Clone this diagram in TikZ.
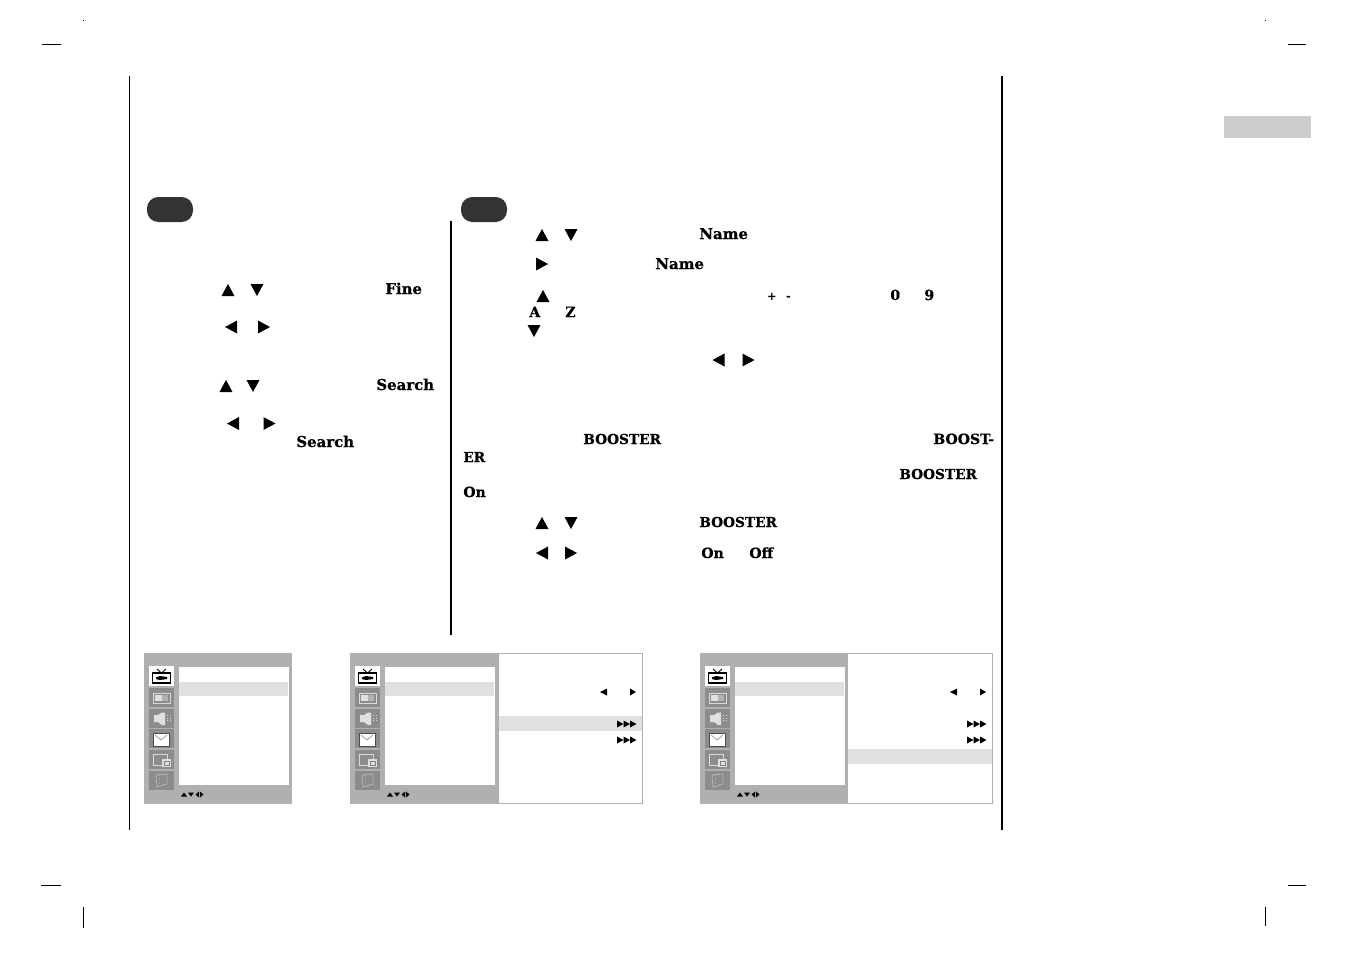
\documentclass[tikz,border=0pt]{standalone}
\usepackage{fontspec}
\newfontfamily\keyfont{DejaVu Serif Bold}[FakeBold=0.6]
\newfontfamily\signfont{DejaVu Sans}
\tikzset{
	keyword/.style={anchor=base west,inner sep=0pt,font=\keyfont\fontsize{8.5}{8.5}\selectfont},
	capword/.style={anchor=base west,inner sep=0pt,font=\keyfont\fontsize{7.8}{7.8}\selectfont},
	shortword/.style={anchor=base west,inner sep=0pt,font=\keyfont\fontsize{8}{8}\selectfont},
	signtext/.style={anchor=base,inner sep=0pt,font=\signfont\bfseries\fontsize{6.5}{6.5}\selectfont},
	rule/.style={line width=0.85pt},
	cropmark/.style={line width=0.55pt},
	menugray/.style={fill=black!31},
	cellgray/.style={fill=black!45},
	barlight/.style={fill=black!12},
	iconline/.style={draw=black!15,line width=0.5pt}
}
\begin{document}
\begin{tikzpicture}[x=0.02cm,y=-0.02cm]
	\useasboundingbox (0,0) rectangle (1351,954);
	% page rules and crop marks
	\draw[rule,line width=0.65pt] (129.5,76) -- (129.5,830);
	\draw[rule,line width=1.1pt] (1002,76) -- (1002,830);
	\draw[rule] (451,221) -- (451,635);
	\draw[cropmark] (42,44) -- (61,44);
	\draw[cropmark] (41,885) -- (61,885);
	\draw[cropmark] (1288,44) -- (1306,44);
	\draw[cropmark] (1288,885) -- (1306,885);
	\draw[cropmark] (83.5,907) -- (83.5,928);
	\draw[cropmark] (1265.5,907) -- (1265.5,926);
	\fill (83,20) rectangle (84,21);
	\fill (1265,20) rectangle (1266,21);
	\fill[black!20] (1224,116) rectangle (1311,138);
	% step pills
	\fill[black!80,rounded corners=6.5pt] (147,197) rectangle (193,222);
	\fill[black!80,rounded corners=6.5pt] (461,197) rectangle (507,222);
	% key arrows
	\foreach \x/\y in {228/290,226/386,542/235,543/296,542/523}
		\fill (\x-6.5,\y+6) -- (\x+6.5,\y+6) -- (\x,\y-6) -- cycle;
	\foreach \x/\y in {257/290,253/386,571/235,534/331,571/523}
		\fill (\x-6.5,\y-6) -- (\x+6.5,\y-6) -- (\x,\y+6) -- cycle;
	\foreach \x/\y in {231/327,233/423.5,718.5/360,542/553}
		\fill (\x+6,\y-6.5) -- (\x+6,\y+6.5) -- (\x-6,\y) -- cycle;
	\foreach \x/\y in {264/327,269.5/423.5,542/264,748.5/360,571/553}
		\fill (\x-6,\y-6.5) -- (\x-6,\y+6.5) -- (\x+6,\y) -- cycle;
	% bold words
	\node[keyword] (fine) at (385,294) {Fine};
	\node[keyword] (searcha) at (376,390) {Search};
	\node[keyword] (searchb) at (296,447) {Search};
	\node[keyword] (namea) at (699,239) {Name};
	\node[keyword] (nameb) at (655,269) {Name};
	\node[shortword] (digita) at (890,300) {0};
	\node[shortword] (digitb) at (924,300) {9};
	\node[shortword] (lettera) at (529,317) {A};
	\node[shortword] (letterb) at (565,317) {Z};
	\node[capword] (boostera) at (583,444) {BOOSTER};
	\node[shortword] (boosterb) at (933,444) {BOOST-};
	\node[capword] (boosterc) at (463,462) {ER};
	\node[capword] (boosterd) at (899,479) {BOOSTER};
	\node[shortword] (ona) at (463,497) {On};
	\node[capword] (boostere) at (699,527) {BOOSTER};
	\node[shortword] (onb) at (701,558) {On};
	\node[shortword] (off) at (749,558) {Off};
	\node[signtext] (plus) at (772,300.5) {+};
	\node[signtext] (minus) at (788.5,300.5) {-};
	% the three menus
	\foreach \dx in {0,206,556} {
		\begin{scope}[xshift=\dx*0.02cm]
			\fill[menugray] (144,653) rectangle (292,804);
			\fill[white] (179,667) rectangle (289,785);
			\fill[barlight] (179,682) rectangle (288,696);
			\fill[white] (149,666) rectangle (174,686);
			\foreach \ya/\yb in {688/707,709/728,729/748,750/769,771/790}
				\fill[cellgray] (149,\ya) rectangle (174,\yb);
			% tv
			\draw[line width=0.7pt] (152.5,673) rectangle (170.5,683);
			\draw[line width=0.5pt] (157,669) -- (161.5,673) -- (166,669);
			\fill (156,677.5) -- (160,676) -- (167,677) -- (167,679) -- (160,680) -- (156,679) -- cycle;
			% picture
			\draw[iconline] (153,693) rectangle (170,703);
			\fill[black!12] (155,695) rectangle (162,701);
			\fill[black!30] (162,695) rectangle (168,701);
			% speaker
			\fill[black!12] (154,715) -- (158,715) -- (162,712.5) -- (165,712.5) -- (165,725) -- (162,725) -- (158,722) -- (154,722) -- cycle;
			\draw[iconline,densely dotted] (167,715) -- (167,722);
			\draw[iconline,densely dotted] (170,715) -- (170,722);
			% clock
			\fill[white] (153,733) rectangle (169,746);
			\draw[black!70,line width=0.4pt] (153,733) rectangle (169,746);
			\draw[black!35,line width=0.5pt] (155,735) -- (161,740) -- (167,735);
			% pip
			\draw[iconline] (153,754) rectangle (167,765);
			\fill[black!12] (162,759) rectangle (171,767);
			\draw[black!50,line width=0.5pt] (164,761) rectangle (169,765);
			% book
			\draw[black!30,line width=0.5pt] (156,775) -- (167,774) -- (167,784) -- (157,787) -- cycle;
			\draw[black!30,line width=0.5pt,densely dotted] (159,775) -- (159,786);
			% navigation arrows
			\fill (181,796.5) -- (187,796.5) -- (184,792.5) -- cycle;
			\fill (188,792.5) -- (194,792.5) -- (191,796.5) -- cycle;
			\fill (199,791.5) -- (199,797.5) -- (195.5,794.5) -- cycle;
			\fill (200,791.5) -- (200,797.5) -- (203.5,794.5) -- cycle;
		\end{scope}
	}
	% side panels
	\fill[white,draw=black!31,line width=0.5pt] (498.5,653.5) rectangle (642.5,803.5);
	\fill[barlight] (499,716) rectangle (642,731);
	\fill[white,draw=black!31,line width=0.5pt] (847.5,653.5) rectangle (992.5,803.5);
	\fill[barlight] (848,749) rectangle (992,764);
	\foreach \x in {607,957}
		\fill (\x,688.5) -- (\x,695.5) -- (\x-7,692) -- cycle;
	\foreach \x in {630,980}
		\fill (\x,688.5) -- (\x,695.5) -- (\x+6,692) -- cycle;
	\foreach \xa in {617,967}
		\foreach \y in {724,740}
			\foreach \n in {0,6.5,13}
				\fill (\xa+\n,\y-3.5) -- (\xa+\n,\y+3.5) -- (\xa+\n+6.5,\y) -- cycle;
\end{tikzpicture}
\end{document}
